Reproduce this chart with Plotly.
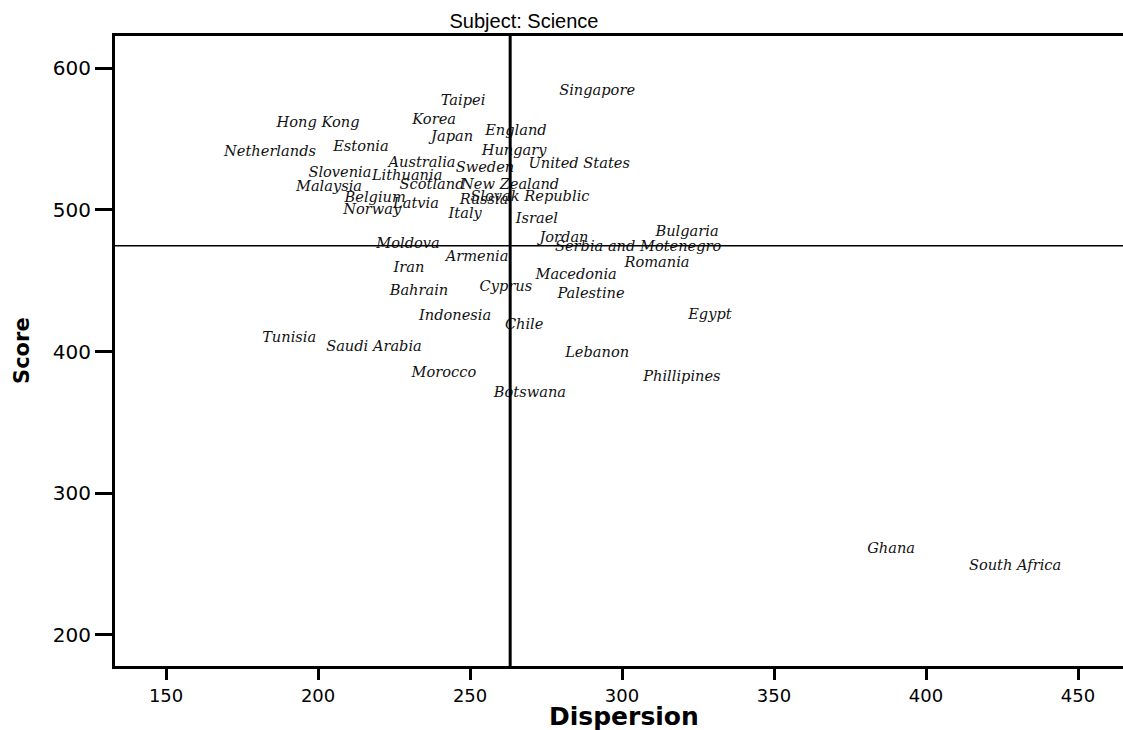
import plotly.graph_objects as go

countries = ["Singapore", "Taipei", "Hong Kong", "Korea", "England", "Japan", "Netherlands",
             "Estonia", "Hungary", "Australia", "Sweden", "United States", "Slovenia",
             "Lithuania", "Malaysia", "Scotland", "New Zealand", "Slovak Republic", "Russia",
             "Belgium", "Latvia", "Norway", "Italy", "Israel", "Jordan", "Bulgaria",
             "Serbia and Motenegro", "Moldova", "Armenia", "Romania", "Iran", "Macedonia",
             "Cyprus", "Bahrain", "Palestine", "Indonesia", "Egypt", "Chile", "Tunisia",
             "Saudi Arabia", "Lebanon", "Morocco", "Phillipines", "Botswana", "Ghana",
             "South Africa"]
dispersion = [291.8, 247.7, 200.0, 238.2, 265.1, 244.1, 184.2,
              214.1, 264.5, 234.2, 254.9, 285.9, 207.2,
              229.3, 203.6, 237.5, 263.2, 269.7, 254.6,
              218.8, 232.2, 217.8, 248.4, 272.0, 280.9, 321.4,
              305.3, 229.6, 252.3, 311.5, 229.9, 284.9,
              261.8, 233.2, 289.8, 245.1, 328.9, 267.8, 190.5,
              218.4, 291.8, 241.4, 319.7, 269.7, 388.5,
              429.3]
score = [578.2, 571.1, 555.6, 557.7, 550.0, 545.7, 535.1,
         538.7, 535.8, 527.4, 523.8, 526.7, 520.3,
         518.2, 510.4, 511.8, 511.8, 503.4, 501.3,
         502.7, 498.4, 494.2, 491.4, 487.9, 474.4, 478.7,
         468.1, 470.2, 461.0, 456.8, 453.3, 448.3,
         439.9, 437.0, 434.9, 419.4, 420.1, 413.0, 403.9,
         397.5, 393.3, 379.7, 376.3, 365.1, 255.0,
         243.0]
mean_dispersion = 263.2
mean_score = 474.6
x_ticks = [150, 200, 250, 300, 350, 400, 450]
y_ticks = [200, 300, 400, 500, 600]

W, H = 1123, 730

fig = go.Figure()
fig.add_trace(go.Scatter(
    x=dispersion, y=score, text=countries, mode="text",
    textposition="top center",
    textfont=dict(family="DejaVu Serif", size=14.6, color="#111111", style="italic"),
    hoverinfo="text", showlegend=False,
))
fig.add_shape(type="line", xref="x", yref="paper", x0=mean_dispersion, x1=mean_dispersion,
              y0=0, y1=1, line=dict(color="black", width=3))
fig.add_shape(type="line", xref="paper", yref="y", x0=0, x1=1, y0=mean_score, y1=mean_score,
              line=dict(color="black", width=1.5))

fig.add_annotation(text="<b>Dispersion</b>", xref="paper", yref="paper", x=0.505, y=-0.0794,
                   showarrow=False, xanchor="center", yanchor="middle",
                   font=dict(family="DejaVu Sans", size=25, color="black"))
fig.add_annotation(text="<b>Score</b>", xref="paper", yref="paper", x=-0.0923, y=0.5016,
                   showarrow=False, xanchor="center", yanchor="middle", textangle=-90,
                   font=dict(family="DejaVu Sans", size=21, color="black"))

fig.update_layout(
    width=W, height=H,
    margin=dict(l=115, r=0, t=36, b=64),
    paper_bgcolor="white", plot_bgcolor="white",
    title=dict(text="Subject: Science", x=524 / W, xanchor="center", xref="container",
               y=1 - 21 / H, yanchor="middle",
               font=dict(family="Liberation Sans", size=20, color="black")),
    font=dict(family="DejaVu Sans", color="black"),
    xaxis=dict(range=[133.2, 464.8], tickvals=x_ticks, showgrid=False, zeroline=False,
               showline=True, linecolor="black", linewidth=3, mirror=True, automargin=False,
               ticks="outside", ticklen=11, tickwidth=2.5, tickcolor="black",
               tickfont=dict(family="DejaVu Sans", size=18, color="black")),
    yaxis=dict(range=[178.1, 622.6], tickvals=y_ticks, showgrid=False, zeroline=False,
               showline=True, linecolor="black", linewidth=3, automargin=False,
               ticks="outside", ticklen=17, tickwidth=2.5, tickcolor="black",
               tickfont=dict(family="DejaVu Sans", size=20, color="black")),
)

fig.write_html("out.html", config={"displayModeBar": False},
               post_script="document.body.style.margin='0';document.body.style.overflow='hidden';")
